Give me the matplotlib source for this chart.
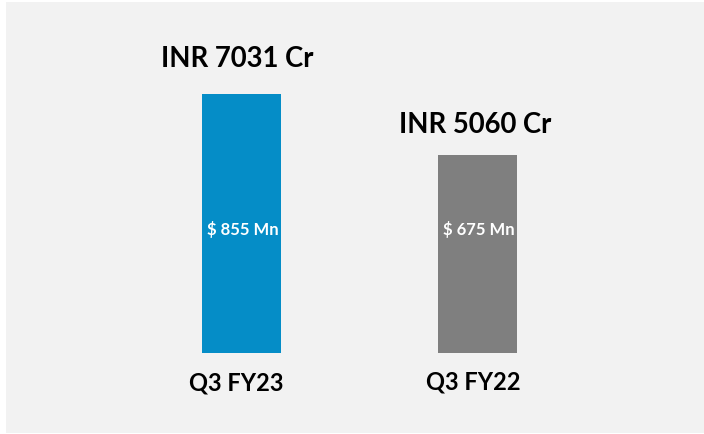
import matplotlib
matplotlib.use("Agg")
import matplotlib.pyplot as plt

# data
quarters = ["Q3 FY23", "Q3 FY22"]
usd_mn = [855, 675]
inr_labels = ["INR 7031 Cr", "INR 5060 Cr"]
usd_labels = ["$ 855 Mn", "$ 675 Mn"]
colors = ["#058dc7", "#7f7f7f"]

W, H = 704, 434
fig = plt.figure(figsize=(W / 100, H / 100), dpi=100, facecolor="white")

# light grey panel behind everything
bg = fig.add_axes([6 / W, 1 / H, 698 / W, 431 / H], zorder=0)
bg.set_facecolor("#f2f2f2")
bg.set_xticks([])
bg.set_yticks([])
for s in bg.spines.values():
    s.set_visible(False)

font = ["Lato", "DejaVu Sans"]

# bar axes: bottom edge at pixel row 353, bars 236 px apart
ax = fig.add_axes([6 / W, (H - 353) / H, 698 / W, (353 - 40) / H], zorder=1)
ax.set_facecolor("none")
x = [0, 1]
ax.bar(x, usd_mn, width=0.335, color=colors)
ax.set_xlim(-(241.5 - 6) / 236, 1 + (704 - 477.5) / 236)
k = 61 / 180  # px per $Mn
ax.set_ylim(91.6, 91.6 + 313 / k)
ax.axis("off")

inr_dy = [35, 30]
inr_dx = [-4, -2]
q_dx = [-5, -4]
q_y = [383, 382]
for xi in x:
    ax.annotate(inr_labels[xi], (xi, usd_mn[xi]), xytext=(inr_dx[xi], inr_dy[xi]),
                textcoords="offset pixels", ha="center", va="center",
                fontsize=19.8, fontweight="bold", family=font, color="black")
    ax.annotate(usd_labels[xi], (xi, 0), xycoords=("data", "figure fraction"),
                xytext=(1, H - 230), textcoords="offset pixels",
                ha="center", va="center", fontsize=12, fontweight="bold",
                family=font, color="white")
    ax.annotate(quarters[xi], (xi, 0), xycoords=("data", "figure fraction"),
                xytext=(q_dx[xi], H - q_y[xi]), textcoords="offset pixels",
                ha="center", va="center", fontsize=17, fontweight="bold",
                family=font, color="black", annotation_clip=False)

fig.savefig("out.png", dpi=100, facecolor=fig.get_facecolor())
